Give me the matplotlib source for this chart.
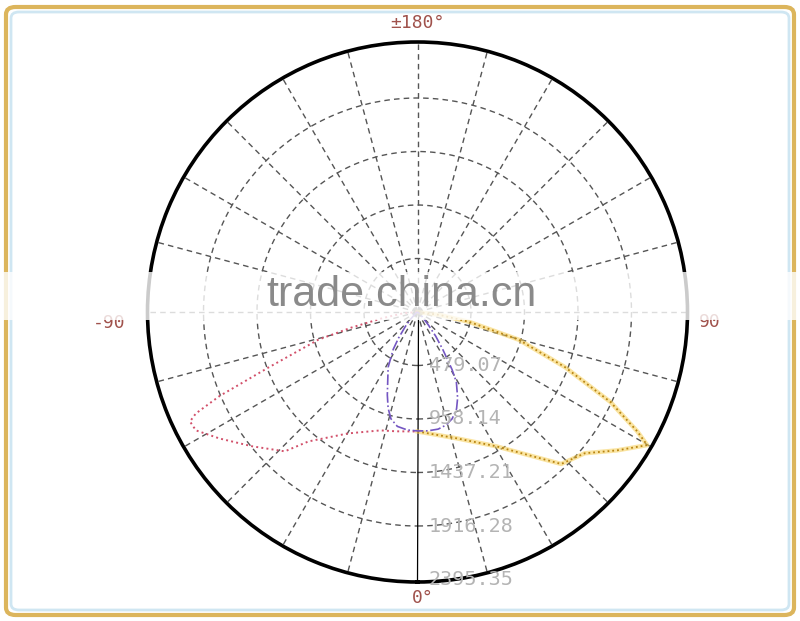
import matplotlib
matplotlib.use("Agg")
import matplotlib.pyplot as plt
from matplotlib.patches import FancyBboxPatch, Rectangle
import numpy as np

# radial ring values (cd)
ring_values = [479.07, 958.14, 1437.21, 1916.28, 2395.35]
ring_labels = ["479.07", "958.14", "1437.21", "1916.28", "2395.35"]

# C0-C180 plane, left half (red) and right half (orange), angle in degrees
red_angles = [-90, -85, -80, -76.7, -74.4, -69.6, -67, -65.4, -64.3, -61.9,
              -57.4, -50.9, -43.6, -40.1, -29.8, -17.4, -10, 0]
red_values = [0, 130, 320, 613, 922, 1420, 1925, 2183, 2261, 2250,
              2103, 1907, 1723, 1515, 1253, 1111, 1085, 1070]

orange_angles = [0, 17.2, 30.3, 37.8, 43.4, 49.8, 55.3, 59.9, 61.5, 65,
                 69.5, 74.7, 79.2, 82.4, 90]
orange_values = [1070, 1184, 1392, 1622, 1873, 1960, 2176, 2377, 2239, 1906,
                 1411, 939, 472, 201, 0]

# C90-C270 plane (purple)
purple_angles = [-60, -50, -44, -40, -36, -33, -28, -23, -20, -17, -14, -10,
                 -5, 0, 5, 10, 14, 18, 22, 25, 29, 31, 34, 37, 40, 45, 50, 60]
purple_values = [0, 30, 90, 170, 290, 400, 560, 683, 790, 900, 985, 1040,
                 1060, 1065, 1068, 1065, 1045, 1005, 934, 850, 718, 600,
                 405, 270, 150, 60, 20, 0]

W, H = 800, 621
fig = plt.figure(figsize=(8, 6.21), dpi=100)

# frame
fig.patches.append(FancyBboxPatch((6 / W, 6 / H), 788 / W, 608 / H,
                                  boxstyle="round,pad=0,rounding_size=0.012",
                                  transform=fig.transFigure, fill=False,
                                  edgecolor="#dcb55c", linewidth=3))
fig.patches.append(FancyBboxPatch((11 / W, 11 / H), 778 / W, 598 / H,
                                  boxstyle="round,pad=0,rounding_size=0.01",
                                  transform=fig.transFigure, fill=False,
                                  edgecolor="#cfe6f2", linewidth=2))

cx, cy, rad = 417.5, 312, 270
ax = fig.add_axes([(cx - rad) / W, (H - cy - rad) / H, 2 * rad / W, 2 * rad / H],
                  projection="polar")
ax.set_theta_zero_location("S")
ax.set_theta_direction(1)
rmax = ring_values[-1] * 270 / 267.5
ax.set_ylim(0, rmax)
ax.set_xticks([])
ax.set_yticks([])
ax.grid(False)
ax.spines["polar"].set_linewidth(2.6)
ax.spines["polar"].set_color("black")

grid_kw = dict(color="#555555", lw=1.0, linestyle=(0, (4, 3)), zorder=1)
full = np.linspace(0, 2 * np.pi, 400)
for r in ring_values[:-1]:
    ax.plot(full, np.full_like(full, r), **grid_kw)
for a in range(0, 360, 15):
    if a == 0:
        ax.plot([0, 0], [0, rmax], color="black", lw=0.9, zorder=1)
    else:
        ax.plot([np.radians(a)] * 2, [0, rmax], **grid_kw)

# curves
ax.plot(np.radians(orange_angles), orange_values, color="#f6cf55", lw=3.2,
        alpha=0.55, zorder=2)
ax.plot(np.radians(orange_angles), orange_values, color="#b88412", lw=1.3,
        linestyle=":", zorder=3)
ax.plot(np.radians(red_angles), red_values, color="#d2506a", lw=1.4,
        linestyle=":", zorder=3)
ax.plot(np.radians(purple_angles), purple_values, color="#7456c2", lw=1.2,
        linestyle="-.", zorder=3)

for r, lab in zip(ring_values, ring_labels):
    ax.annotate(lab, xy=(0, r), xytext=(8, 0), textcoords="offset points",
                ha="left", va="center", fontsize=14.5, color="#b4b4b4",
                family="DejaVu Sans Mono", zorder=4, annotation_clip=False)

lab_kw = dict(fontsize=13, color="#a0524c", family="DejaVu Sans Mono",
              ha="center", va="center")
fig.text(417 / W, 1 - 23 / H, "±180°", **lab_kw)
fig.text(109 / W, 1 - 323 / H, "-90", **lab_kw)
fig.text(710 / W, 1 - 322 / H, "90", **lab_kw)
fig.text(423 / W, 1 - 598 / H, "0°", **lab_kw)

# watermark band
fig.patches.append(Rectangle((0, 1 - 320 / H), 1, 48 / H, transform=fig.transFigure,
                             facecolor="white", alpha=0.8, edgecolor="none",
                             zorder=10))
fig.text(402 / W, 1 - 295 / H, "trade.china.cn", fontsize=31, color="#8a8a8a",
         family="Liberation Sans", ha="center", va="center", zorder=11)

fig.savefig("out.png", dpi=100)
